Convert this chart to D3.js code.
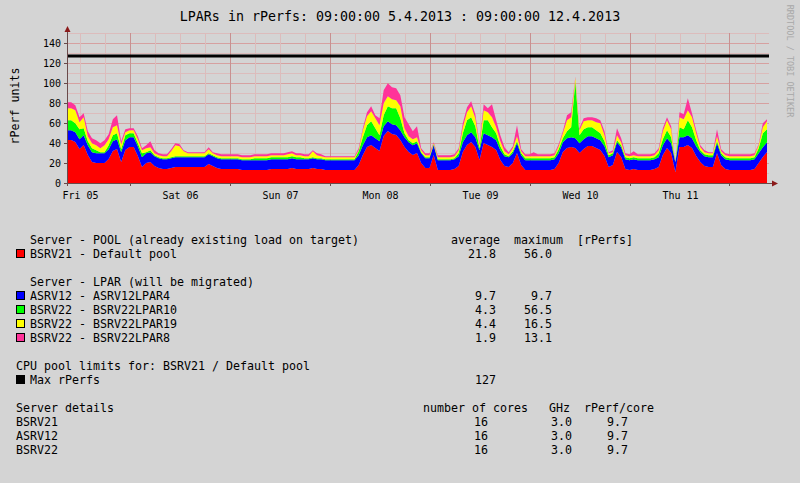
<!DOCTYPE html>
<html><head><meta charset="utf-8">
<script src="https://cdn.jsdelivr.net/npm/d3@7"></script>
<style>
html,body{margin:0;padding:0;background:#d4d4d4;}
svg text{font-family:"DejaVu Sans Mono",monospace;fill:#000;}
</style></head>
<body>
<svg id="chart" width="800" height="483"></svg>
<script>
// ---------- DATA ----------
const title = "LPARs in rPerfs: 09:00:00 5.4.2013 : 09:00:00 12.4.2013";
const startTime = new Date(2013, 3, 5, 9, 0, 0);
const endTime = new Date(2013, 3, 12, 9, 0, 0);
const yTicks = [0, 20, 40, 60, 80, 100, 120, 140];
const maxRperfs = 127;

const seriesKeys = ["pool", "lpar4", "lpar10", "lpar19", "lpar8"];
const seriesColors = ["#ff0000", "#0000ff", "#00ff00", "#ffff00", "#ff3399"];
const seriesLabels = ["BSRV21 - Default pool", "ASRV12 - ASRV12LPAR4", "BSRV22 - BSRV22LPAR10", "BSRV22 - BSRV22LPAR19", "BSRV22 - BSRV22LPAR8"];
const seriesAvg = ["21.8", "9.7", "4.3", "4.4", "1.9"];
const seriesMax = ["56.0", "9.7", "56.5", "16.5", "13.1"];

// hourly values from 09:00 5.4.2013 (169 samples)
const pool = [
43,43,41,34,38,28,21,20,20,20, 24,32,34,21,33,36,36,27,16,20,
21,17,15,14,14,15,16,16,16,16, 16,16,16,16,19,17,15,14,14,14,
14,14,13,13,13,13,13,13,13,14, 14,14,14,14,15,14,14,14,14,15,
14,14,13,13,13,13,13,13,13,13, 18,28,36,38,35,32,47,52,49,48,
43,36,31,28,30,20,15,15,28,13, 13,13,13,14,17,31,38,41,36,23,
40,38,36,33,23,17,16,20,30,18, 13,13,13,13,13,13,13,14,20,31,
35,36,35,30,34,37,37,35,33,27, 16,18,31,26,14,13,14,13,13,13,
13,14,16,28,35,30,11,36,36,38, 35,27,21,17,16,16,30,18,14,13,
13,13,13,13,13,14,20,26,31];
const lpar4 = [
9.7,9.7,9.7,9.7,9.7,9.7,9.7,9.7,9.7,9.7, 9.7,9.7,9.7,9.7,9.7,9.7,9.7,9.7,9.7,9.7,
9.7,9.7,9.7,9.7,9.7,9.7,9.7,9.7,9.7,9.7, 9.7,9.7,9.7,9.7,9.7,9.7,9.7,9.7,9.7,9.7,
9.7,9.7,9.7,9.7,9.7,9.7,9.7,9.7,9.7,9.7, 9.7,9.7,9.7,9.7,9.7,9.7,9.7,9.7,9.7,9.7,
9.7,9.7,9.7,9.7,9.7,9.7,9.7,9.7,9.7,9.7, 9.7,9.7,9.7,9.7,9.7,9.7,9.7,9.7,9.7,9.7,
9.7,9.7,9.7,9.7,9.7,9.7,9.7,9.7,9.7,9.7, 9.7,9.7,9.7,9.7,9.7,9.7,9.7,9.7,9.7,9.7,
9.7,9.7,9.7,9.7,9.7,9.7,9.7,9.7,9.7,9.7, 9.7,9.7,9.7,9.7,9.7,9.7,9.7,9.7,9.7,9.7,
9.7,9.7,9.7,9.7,9.7,9.7,9.7,9.7,9.7,9.7, 9.7,9.7,9.7,9.7,9.7,9.7,9.7,9.7,9.7,9.7,
9.7,9.7,9.7,9.7,9.7,9.7,9.7,9.7,9.7,9.7, 9.7,9.7,9.7,9.7,9.7,9.7,9.7,9.7,9.7,9.7,
9.7,9.7,9.7,9.7,9.7,9.7,9.7,9.7,9.7];
const lpar10 = [
10,10,9,10,7,4,4,3,1,1, 4,6,6,3,5,4,4,3,4,1,
2,1,1,1,1,1,1,1,1,1, 1,1,1,1,1,1,1,1,1,1,
1,1,1,1,1,2,2,2,2,2, 2,2,2,2,2,2,2,1,1,1,
1,1,1,1,1,1,1,1,1,1, 4,8,12,14,10,6,11,15,16,17,
12,4,2,2,2,1,1,1,1,1, 1,1,1,1,3,9,15,15,11,2,
13,15,10,7,4,2,1,2,2,2, 2,2,2,2,2,2,2,2,4,4,
7,10,56.5,8,10,9,9,8,7,5, 2,2,2,2,2,2,2,2,2,2,
2,2,4,6,8,6,0,10,8,15, 11,6,2,2,2,2,2,2,2,2,
2,2,2,2,2,2,5,14,13];
const lpar19 = [
12,12,13,7,11,5,5,5,4,7, 6,8,8,5,3,3,3,4,3,4,
3,2,2,2,2,6,11,10,5,3, 3,3,3,3,4,2,2,2,2,2,
2,2,2,2,2,2,2,2,2,2, 2,2,2,3,3,2,2,2,2,6,
3,2,2,2,2,2,2,2,2,2, 1,7,9,10,10,10,12,10,9,8,
12,5,4,4,4,2,2,2,1,2, 2,2,2,2,3,6,8,11,8,3,
10,8,10,6,5,3,2,3,5,2, 2,2,2,2,2,2,2,2,3,5,
11,10,4,5,8,7,7,8,10,6, 2,1,5,3,2,2,2,2,2,2,
2,2,3,8,10,8,0,10,10,10, 10,7,3,2,2,2,5,2,2,2,
2,2,2,2,2,2,3,6,8];
const lpar8 = [
6,6,5,5,4,5,5,5,5,5, 5,8,10,3,3,2,2,3,2,3,
6,3,2,2,2,2,2,2,1,1, 1,1,1,1,2,1,2,2,2,2,
2,2,2,2,2,2,2,2,2,2, 2,2,2,2,2,2,2,2,2,1,
2,2,1,1,1,1,1,1,1,1, 2,2,4,5,3,7,13,13,12,12,
11,11,12,8,11,2,2,2,1,2, 2,2,2,2,2,4,5,5,4,2,
6,4,13,7,6,4,2,2,11,2, 2,2,4,2,2,2,2,2,2,2,
5,5,1,2,3,3,3,4,3,4, 1,2,7,4,2,2,4,2,2,2,
2,2,2,3,3,3,0,5,5,12, 4,3,2,2,1,1,7,2,2,2,
2,2,2,2,2,2,1,4,2];

const serverRows = [["BSRV21","16","3.0","9.7"],["ASRV12","16","3.0","9.7"],["BSRV22","16","3.0","9.7"]];

// ---------- CHART ----------
const svg = d3.select("#chart");
svg.append("rect").attr("width",800).attr("height",483).attr("fill","#d4d4d4");

const plotL = 67, plotR = 767, plotTop = 33, plotBottom = 183;
const x = d3.scaleTime().domain([startTime, endTime]).range([plotL, plotR]);
const y = d3.scaleLinear().domain([0, 150]).range([plotBottom, plotTop]);

const rows = pool.map((v, i) => ({
  t: d3.timeHour.offset(startTime, i),
  pool: v, lpar4: lpar4[i], lpar10: lpar10[i], lpar19: lpar19[i], lpar8: lpar8[i]
}));

// grid
const g = svg.append("g");
const minorY = d3.range(0, 151, 10);
g.selectAll(".hm").data(minorY).join("line")
  .attr("x1", plotL).attr("x2", plotR+2).attr("y1", d=>y(d)+0.5).attr("y2", d=>y(d)+0.5)
  .attr("stroke", d => d % 20 === 0 ? "#d6a0a0" : "#dcbcbc").attr("stroke-width",1);
const minorX = d3.timeHour.every(6).range(startTime, d3.timeHour.offset(endTime, 1));
g.selectAll(".vm").data(minorX).join("line")
  .attr("x1", d=>Math.round(x(d))+0.5).attr("x2", d=>Math.round(x(d))+0.5)
  .attr("y1", plotTop).attr("y2", plotBottom)
  .attr("stroke", d => d.getHours() === 0 ? "#c89090" : "#dcbcbc").attr("stroke-width",1);

// stacked areas
const stack = d3.stack().keys(seriesKeys);
const layers = stack(rows);
const area = d3.area().x(d => x(d.data.t)).y0(d => y(d[0])).y1(d => y(d[1])).curve(d3.curveLinear);
svg.append("g").selectAll("path").data(layers).join("path")
  .attr("d", area).attr("fill", (d,i) => seriesColors[i]);

// max line
svg.append("line").attr("x1", plotL).attr("x2", plotR+2)
  .attr("y1", y(maxRperfs)).attr("y2", y(maxRperfs))
  .attr("stroke", "#000").attr("stroke-width", 3);

// axes
const axisColor = "#6a4a4a";
svg.append("line").attr("x1", plotL+0.5).attr("x2", plotL+0.5).attr("y1", plotBottom+3).attr("y2", 30).attr("stroke", axisColor);
svg.append("line").attr("x1", plotL-3).attr("x2", 773).attr("y1", plotBottom+0.5).attr("y2", plotBottom+0.5).attr("stroke", axisColor);
svg.append("path").attr("d", `M${plotL+0.5-3},32 L${plotL+0.5+3},32 L${plotL+0.5},26 Z`).attr("fill", "#8b1a1a");
svg.append("path").attr("d", `M772,${plotBottom+0.5-3} L772,${plotBottom+0.5+3} L778,${plotBottom+0.5} Z`).attr("fill", "#8b1a1a");
// ticks
svg.selectAll(".yt").data(yTicks).join("line")
  .attr("x1", plotL-3).attr("x2", plotL).attr("y1", d=>y(d)+0.5).attr("y2", d=>y(d)+0.5).attr("stroke", axisColor);
const days = d3.timeDay.range(startTime, endTime);
svg.selectAll(".xt").data(days).join("line")
  .attr("x1", d=>Math.round(x(d))+0.5).attr("x2", d=>Math.round(x(d))+0.5)
  .attr("y1", plotBottom).attr("y2", plotBottom+3).attr("stroke", axisColor);

// y labels
svg.selectAll(".yl").data(yTicks).join("text")
  .attr("x", 61).attr("y", d=>y(d)+4).attr("text-anchor","end")
  .style("font-size","10px").text(d=>d);
// x labels at noon
const noons = d3.timeDay.range(d3.timeDay.floor(startTime), endTime).map(d => d3.timeHour.offset(d, 12)).filter(d => d >= startTime && d <= endTime);
const fmt = d3.timeFormat("%a %d");
svg.selectAll(".xl").data(noons).join("text")
  .attr("x", d=>x(d)+1).attr("y", 199).attr("text-anchor","middle")
  .style("font-size","10px").text(d=>fmt(d));

// title
svg.append("text").attr("x", 400).attr("y", 21).attr("text-anchor","middle")
  .style("font-size","13.3px").text(title);
// y title
svg.append("text").attr("transform","translate(19,106) rotate(-90)").attr("text-anchor","middle")
  .style("font-size","11.6px").text("rPerf units");
// watermark
svg.append("text").attr("transform","translate(787,61) rotate(90)").attr("text-anchor","middle")
  .style("font-size","8.5px").style("fill","#a8a8a8").text("RRDTOOL / TOBI OETIKER");

// ---------- LEGEND ----------
const lg = svg.append("g").style("font-size","11.63px");
function txt(xp, yc, s, anchor) {
  lg.append("text").attr("x", xp).attr("y", yc+4).attr("text-anchor", anchor||"start")
    .attr("xml:space","preserve").style("white-space","pre").text(s);
}
function box(yc, color) {
  lg.append("rect").attr("x", 16.5).attr("y", yc-4.5).attr("width", 8).attr("height", 8)
    .attr("fill", color).attr("stroke", "#000").attr("stroke-width", 1);
}
txt(30, 240, "Server - POOL (already existing load on target)");
txt(451, 240, "average  maximum  [rPerfs]");
const rowY = [254, 296, 310, 324, 338];
txt(30, 282, "Server - LPAR (will be migrated)");
seriesLabels.forEach((lab, i) => {
  box(rowY[i], seriesColors[i]);
  txt(30, rowY[i], lab);
  txt(496, rowY[i], seriesAvg[i], "end");
  txt(552, rowY[i], seriesMax[i], "end");
});
txt(16, 366, "CPU pool limits for: BSRV21 / Default pool");
box(380, "#000");
txt(30, 380, "Max rPerfs");
txt(496, 380, String(maxRperfs), "end");
txt(16, 408, "Server details");
txt(423, 408, "number of cores   GHz  rPerf/core");
serverRows.forEach((r, i) => {
  const yc = 422 + i*14;
  txt(16, yc, r[0]);
  txt(488, yc, r[1], "end");
  txt(572, yc, r[2], "end");
  txt(628, yc, r[3], "end");
});
</script>
</body></html>
